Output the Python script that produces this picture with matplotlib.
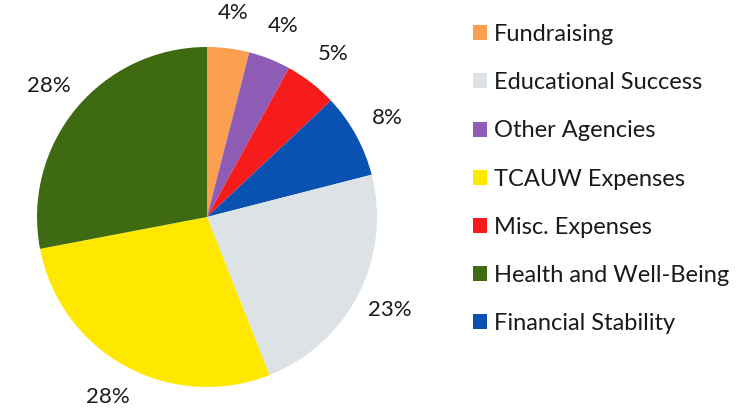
import matplotlib.pyplot as plt
from matplotlib.patches import Patch

# slices in drawing order (clockwise from top)
categories = ['Fundraising', 'Other Agencies', 'Misc. Expenses', 'Financial Stability',
              'Educational Success', 'TCAUW Expenses', 'Health and Well-Being']
values = [4, 4, 5, 8, 23, 28, 28]
colors = ['#FAA050', '#8E5BB5', '#F71C1C', '#0A52B2', '#DCE2E6', '#FFE800', '#3E6B12']

legend_order = ['Fundraising', 'Educational Success', 'Other Agencies', 'TCAUW Expenses',
                'Misc. Expenses', 'Health and Well-Being', 'Financial Stability']

plt.rcParams['font.family'] = ['Lato', 'DejaVu Sans']

fig = plt.figure(figsize=(7.46, 4.09), dpi=100)
ax = fig.add_axes([0.0496, 0.0538, 0.4558, 0.8313])

wedges, texts = ax.pie(values, colors=colors, startangle=90, counterclock=False,
                       labels=[f'{v}%' for v in values], labeldistance=1.21,
                       textprops={'fontsize': 16, 'color': '#1a1a1a'})
for t in texts:
    t.set_horizontalalignment('center')
    t.set_verticalalignment('center')
ax.set_xlim(-1, 1)
ax.set_ylim(-1, 1)
ax.set_aspect('equal')

cmap = dict(zip(categories, colors))
handles = [Patch(facecolor=cmap[c], edgecolor='none') for c in legend_order]
fig.legend(handles, legend_order, loc='upper left', bbox_to_anchor=(0.605, 0.993),
           frameon=False, fontsize=17, handlelength=0.6, handleheight=0.6,
           handletextpad=0.3, labelspacing=1.15, labelcolor='#1a1a1a')

fig.savefig('out.png', dpi=100)
